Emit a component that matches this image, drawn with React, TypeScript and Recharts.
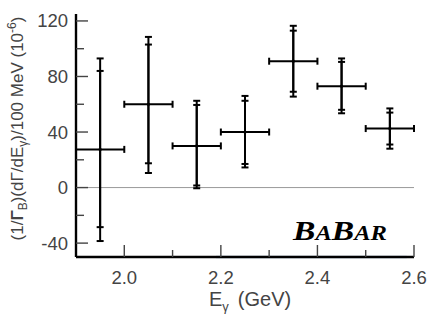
import React from 'react';
import { ComposedChart, Scatter, ErrorBar, XAxis, YAxis, ReferenceLine, Label } from 'recharts';

// Bin centres (GeV) and half bin width
const energies = [1.95, 2.05, 2.15, 2.25, 2.35, 2.45, 2.55];
const binHalfWidth = 0.05;
// Central values (10^-6 per 100 MeV)
const values = [27.5, 60, 30, 40, 91, 73, 42.5];
// Statistical error band ends
const statUpper = [84, 103, 59.5, 62.5, 113, 90.5, 54];
const statLower = [-28.5, 17.5, 1.5, 17, 69, 56, 31];
// Total error band ends
const totUpper = [93, 108.5, 62.5, 66, 116.5, 93, 57];
const totLower = [-38.5, 10.5, -0.5, 14.5, 65.5, 53.5, 28];

const xTicks = [2.0, 2.1, 2.2, 2.3, 2.4, 2.5, 2.6];
const yTicks = [-40, -20, 0, 20, 40, 60, 80, 100, 120];
const xDomain = [1.9, 2.6];
const yDomain = [-50, 125];

const rows = energies.map((e, i) => ({
  x: e,
  y: values[i],
  xErr: binHalfWidth,
  stat: [values[i] - statLower[i], statUpper[i] - values[i]],
  tot: [values[i] - totLower[i], totUpper[i] - values[i]],
}));

const FONT = '"Liberation Sans", Arial, sans-serif';
const TXT = '#444';

const isMajorX = (v: number) => Math.round(v * 10) % 2 === 0;
const isMajorY = (v: number) => Math.round(v) % 40 === 0;

const BottomTick = (props: any) => {
  const { x, y, payload } = props;
  const v = payload.value;
  const major = isMajorX(v);
  const len = major ? 12 : 7;
  return (
    <g>
      <line x1={x} x2={x} y1={y} y2={y - len} stroke="#444" strokeWidth={1.4} />
      {major && (
        <text x={x} y={y + 27} textAnchor="middle" fontFamily={FONT} fontSize={18.5} fill={TXT}>
          {v.toFixed(1)}
        </text>
      )}
    </g>
  );
};

const TopTick = (props: any) => {
  const { x, y, payload } = props;
  const major = isMajorX(payload.value);
  const len = major ? 11 : 8;
  return <line x1={x} x2={x} y1={y} y2={y + len} stroke="#444" strokeWidth={1.4} />;
};

const LeftTick = (props: any) => {
  const { x, y, payload } = props;
  const v = payload.value;
  const major = isMajorY(v);
  const len = major ? 12 : 8;
  return (
    <g>
      <line x1={x} x2={x + len} y1={y} y2={y} stroke="#444" strokeWidth={1.4} />
      {major && (
        <text x={x - 8} y={y + 6.5} textAnchor="end" fontFamily={FONT} fontSize={18.5} fill={TXT}>
          {String(v)}
        </text>
      )}
    </g>
  );
};

const RightTick = (props: any) => {
  const { x, y, payload } = props;
  const major = isMajorY(payload.value);
  const len = major ? 11 : 4;
  return <line x1={x} x2={x - len} y1={y} y2={y} stroke="#444" strokeWidth={1.4} />;
};

const YTitle = (props: any) => {
  const vb = props.viewBox || { x: 0, y: 14, width: 76, height: 243 };
  const cx = vb.x + 23;
  const cy = vb.y + vb.height / 2 - 7;
  return (
    <text
      x={cx}
      y={cy}
      transform={`rotate(-90 ${cx} ${cy})`}
      textAnchor="middle"
      fontFamily={FONT}
      fontSize={17}
      fill={TXT}
    >
      <tspan>(1/</tspan>
      <tspan fontWeight="bold">Γ</tspan>
      <tspan fontSize={12} dy={4}>B</tspan>
      <tspan dy={-4}>)(dΓ/dE</tspan>
      <tspan fontSize={12} dy={4}>γ</tspan>
      <tspan dy={-4}>)/100 MeV (10</tspan>
      <tspan fontSize={12} dy={-7}>-6</tspan>
      <tspan dy={7}>)</tspan>
    </text>
  );
};

const XTitle = (props: any) => {
  const vb = props.viewBox || { x: 76, y: 257, width: 338, height: 66 };
  const x0 = vb.x + 133;
  const y0 = vb.y + 49;
  return (
    <text x={x0} y={y0} fontFamily={FONT} fontSize={20} fill={TXT}>
      <tspan>E</tspan>
      <tspan fontSize={13} dy={5}>γ</tspan>
      <tspan dy={-5} dx={9}>(GeV)</tspan>
    </text>
  );
};

const Dot = (props: any) => {
  const { cx, cy } = props;
  return <circle cx={cx} cy={cy} r={1.6} fill="#000" />;
};

export default function App() {
  return (
    <div style={{ position: 'absolute', left: 0, top: 0, width: 436, height: 323, background: '#fff' }}>
      <ComposedChart width={436} height={323} margin={{ top: 14, right: 22, left: 0, bottom: 0 }}>
        <XAxis
          xAxisId="b"
          dataKey="x"
          type="number"
          domain={xDomain}
          allowDataOverflow
          ticks={xTicks}
          interval={0}
          height={66}
          orientation="bottom"
          axisLine={{ stroke: '#000', strokeWidth: 2.4 }}
          tickLine={false}
          tickSize={0}
          tickMargin={0}
          tick={<BottomTick />}
        >
          <Label content={<XTitle />} />
        </XAxis>
        <XAxis
          xAxisId="t"
          dataKey="x"
          type="number"
          domain={xDomain}
          allowDataOverflow
          ticks={xTicks}
          interval={0}
          height={0}
          orientation="top"
          axisLine={{ stroke: '#000', strokeWidth: 2.4 }}
          tickLine={false}
          tickSize={0}
          tickMargin={0}
          tick={<TopTick />}
        />
        <YAxis
          yAxisId="l"
          type="number"
          domain={yDomain}
          allowDataOverflow
          ticks={yTicks}
          interval={0}
          width={76}
          orientation="left"
          axisLine={{ stroke: '#000', strokeWidth: 2.4 }}
          tickLine={false}
          tickSize={0}
          tickMargin={0}
          tick={<LeftTick />}
        >
          <Label content={<YTitle />} />
        </YAxis>
        <YAxis
          yAxisId="r"
          type="number"
          domain={yDomain}
          allowDataOverflow
          ticks={yTicks}
          interval={0}
          width={0}
          orientation="right"
          axisLine={{ stroke: '#000', strokeWidth: 2.4 }}
          tickLine={false}
          tickSize={0}
          tickMargin={0}
          tick={<RightTick />}
        />
        <ReferenceLine xAxisId="b" yAxisId="l" y={0} stroke="#999" strokeWidth={1} />
        <ReferenceLine
          xAxisId="b"
          yAxisId="l"
          segment={[{ x: 2.19, y: -50 }, { x: 2.585, y: -50 }]}
          stroke="#b4cde6"
          strokeWidth={2.4}
        />
        <Scatter
          xAxisId="b"
          yAxisId="l"
          data={rows}
          dataKey="y"
          shape={<Dot />}
          isAnimationActive={false}
        >
          <ErrorBar dataKey="xErr" direction="x" width={3.5} stroke="#000" strokeWidth={2} isAnimationActive={false} />
          <ErrorBar dataKey="tot" direction="y" width={3.5} stroke="#000" strokeWidth={2} isAnimationActive={false} />
          <ErrorBar dataKey="stat" direction="y" width={3.5} stroke="#000" strokeWidth={2} isAnimationActive={false} />
        </Scatter>
        <ReferenceLine
          xAxisId="b"
          yAxisId="l"
          y={-50}
          stroke="none"
          label={(p: any) => {
            const vb = p.viewBox;
            const x = vb.x + 217;
            const y = vb.y - 17;
            return (
              <text
                x={x}
                y={y}
                fontFamily={'"Liberation Serif", "Times New Roman", serif'}
                fontWeight="bold"
                fontStyle="italic"
                fill="#000"
                textLength={94}
                lengthAdjust="spacingAndGlyphs"
              >
                <tspan fontSize={28}>B</tspan>
                <tspan fontSize={20.5}>A</tspan>
                <tspan fontSize={28}>B</tspan>
                <tspan fontSize={20.5}>AR</tspan>
              </text>
            );
          }}
        />
      </ComposedChart>
    </div>
  );
}
